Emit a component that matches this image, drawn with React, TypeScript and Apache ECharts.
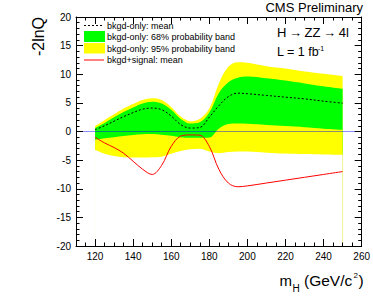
import React, { useEffect, useRef } from "react";
import * as echarts from "echarts";

const mH = [120, 125, 130, 135, 140, 145, 150, 155, 160, 165, 170, 175, 180, 185, 190, 195, 200, 210, 220, 230, 240, 250];
const bkgMean = [0.3, 1.0, 1.8, 2.6, 3.3, 3.9, 4.1, 3.8, 2.7, 1.2, 0.6, 0.7, 2.5, 4.5, 6.1, 6.7, 6.6, 6.3, 6.0, 5.7, 5.3, 4.95];
const band68Up = [0.6, 1.5, 2.5, 3.4, 4.2, 4.9, 5.2, 4.9, 3.8, 2.2, 1.4, 1.6, 3.3, 6.7, 8.6, 9.4, 9.6, 9.3, 8.9, 8.4, 7.9, 7.45];
const band68Down = [-1.45, -1.2, -1.0, -0.8, -0.6, -0.5, -0.45, -0.55, -0.75, -1.0, -1.1, -1.1, -1.05, 0.5, 1.3, 1.4, 1.35, 1.15, 0.95, 0.75, 0.5, 0.3];
const band95Up = [0.9, 2.0, 3.0, 4.0, 4.8, 5.5, 5.8, 5.5, 4.3, 2.6, 1.8, 2.2, 4.0, 8.4, 11.3, 12.1, 12.0, 11.4, 11.0, 10.5, 10.1, 9.7];
const band95Down = [-3.2, -3.9, -4.3, -4.5, -4.55, -4.55, -4.5, -4.4, -3.9, -3.4, -3.1, -3.0, -3.5, -3.8, -3.6, -3.5, -3.5, -3.7, -3.85, -3.95, -4.0, -4.07];
const sigMean = [-1.0, -2.0, -2.8, -3.8, -5.2, -6.6, -7.5, -5.9, -2.6, -0.8, -0.6, -0.65, -2.6, -6.6, -9.0, -9.65, -9.5, -9.0, -8.5, -8.0, -7.5, -7.0];

const xMajorTicks = [120, 140, 160, 180, 200, 220, 240, 260];

const FONT = "Liberation Sans, Arial, Helvetica, sans-serif";

const pairs = (ys: number[]) => mH.map((x, i) => [x, ys[i]]);

export default function App() {
  const ref = useRef<HTMLDivElement>(null);
  useEffect(() => {
    if (!ref.current) return;
    const chart = echarts.init(ref.current, undefined, { renderer: "svg" });
    const SM = 0.35;
    const band = (name: string, ys: number[], color: string) => ({
      name,
      type: "line",
      data: pairs(ys),
      smooth: SM,
      showSymbol: false,
      symbol: "none",
      lineStyle: { width: 0, color },
      areaStyle: { color, opacity: 1, origin: "start" },
      silent: true,
    });
    const axisCommon = {
      type: "value",
      min: 110,
      max: 260,
      z: 10,
      splitLine: { show: false },
    };
    chart.setOption({
      animation: false,
      backgroundColor: "#ffffff",
      grid: { left: 76, right: 8, top: 17, bottom: 53 },
      xAxis: [
        {
          ...axisCommon,
          position: "bottom",
          axisLine: { show: true, onZero: false, lineStyle: { color: "#000", width: 1 } },
          axisTick: { show: true, inside: true, length: 7, customValues: xMajorTicks, lineStyle: { color: "#000" } },
          axisLabel: { show: true, customValues: xMajorTicks, margin: 5, fontSize: 10, color: "#000", fontFamily: FONT },
        },
        {
          ...axisCommon,
          position: "bottom",
          interval: 5,
          axisLine: { show: false, onZero: false },
          axisTick: { show: true, inside: true, length: 3.5, lineStyle: { color: "#000" } },
          axisLabel: { show: false },
        },
        {
          ...axisCommon,
          position: "top",
          axisLine: { show: true, onZero: false, lineStyle: { color: "#000", width: 1 } },
          axisTick: { show: true, inside: true, length: 7, customValues: xMajorTicks, lineStyle: { color: "#000" } },
          axisLabel: { show: false },
        },
        {
          ...axisCommon,
          position: "top",
          interval: 5,
          axisLine: { show: false, onZero: false },
          axisTick: { show: true, inside: true, length: 3.5, lineStyle: { color: "#000" } },
          axisLabel: { show: false },
        },
      ],
      yAxis: [
        {
          type: "value",
          min: -20,
          max: 20,
          interval: 5,
          z: 10,
          position: "left",
          splitLine: { show: false },
          axisLine: { show: true, onZero: false, lineStyle: { color: "#000", width: 1 } },
          axisTick: { show: true, inside: true, length: 7, lineStyle: { color: "#000" } },
          minorTick: { show: true, splitNumber: 5, length: 3.5, lineStyle: { color: "#000" } },
          axisLabel: { show: true, margin: 5, fontSize: 10, color: "#000", fontFamily: FONT },
        },
        {
          type: "value",
          min: -20,
          max: 20,
          interval: 5,
          z: 10,
          position: "right",
          splitLine: { show: false },
          axisLine: { show: true, onZero: false, lineStyle: { color: "#000", width: 1 } },
          axisTick: { show: true, inside: true, length: 7, lineStyle: { color: "#000" } },
          minorTick: { show: true, splitNumber: 5, length: 3.5, lineStyle: { color: "#000" } },
          axisLabel: { show: false },
        },
      ],
      series: [
        band("95up", band95Up, "#ffff00"),
        band("68up", band68Up, "#00ff00"),
        band("68down", band68Down, "#ffff00"),
        band("95down", band95Down, "#ffffff"),
        {
          name: "edge",
          type: "line",
          data: [[250, band95Down[band95Down.length - 1]], [250, -20]],
          showSymbol: false,
          symbol: "none",
          lineStyle: { width: 1, color: "#f4f4a0" },
        },
        {
          name: "bkgd-only: mean",
          type: "line",
          data: pairs(bkgMean),
          smooth: SM,
          showSymbol: false,
          symbol: "none",
          lineStyle: { width: 1, color: "#000", type: [2, 2] },
        },
        {
          name: "zero",
          type: "line",
          data: [[110, 0], [260, 0]],
          showSymbol: false,
          symbol: "none",
          lineStyle: { width: 1, color: "#0000ff", opacity: 0.45 },
        },
        {
          name: "bkgd+signal: mean",
          type: "line",
          data: pairs(sigMean),
          smooth: SM,
          showSymbol: false,
          symbol: "none",
          lineStyle: { width: 1, color: "#ff0000" },
        },
      ],
      graphic: [
        { type: "line", shape: { x1: 84, y1: 25.5, x2: 104, y2: 25.5 }, style: { stroke: "#000", lineWidth: 1, lineDash: [2, 2] }, z: 20 },
        { type: "rect", shape: { x: 84, y: 31, width: 21, height: 11 }, style: { fill: "#00ff00" }, z: 20 },
        { type: "rect", shape: { x: 84, y: 43, width: 21, height: 10.5 }, style: { fill: "#ffff00" }, z: 20 },
        { type: "line", shape: { x1: 84, y1: 60, x2: 104, y2: 60 }, style: { stroke: "#ff0000", lineWidth: 1 }, z: 20 },
        { type: "text", x: 107, y: 25.5, style: { text: "bkgd-only: mean", font: `9px ${FONT}`, fill: "#000", verticalAlign: "middle" }, z: 20 },
        { type: "text", x: 107, y: 37, style: { text: "bkgd-only: 68% probability band", font: `9px ${FONT}`, fill: "#000", verticalAlign: "middle" }, z: 20 },
        { type: "text", x: 107, y: 48.5, style: { text: "bkgd-only: 95% probability band", font: `9px ${FONT}`, fill: "#000", verticalAlign: "middle" }, z: 20 },
        { type: "text", x: 107, y: 60, style: { text: "bkgd+signal: mean", font: `9px ${FONT}`, fill: "#000", verticalAlign: "middle" }, z: 20 },
        { type: "text", x: 363, y: 7, style: { text: "CMS Preliminary", font: `13px ${FONT}`, fill: "#000", align: "right", verticalAlign: "middle" }, z: 20 },
        { type: "text", x: 277, y: 32.5, style: { text: "H\u2009\u2192\u2009ZZ\u2009\u2192\u20094l", font: `13px ${FONT}`, fill: "#000", verticalAlign: "middle" }, z: 20 },
        { type: "text", x: 277, y: 52, style: { text: "L = 1 fb", font: `12.5px ${FONT}`, fill: "#000", verticalAlign: "middle" }, z: 20 },
        { type: "text", x: 318, y: 48.5, style: { text: "-1", font: `7px ${FONT}`, fill: "#000", verticalAlign: "middle" }, z: 20 },
        { type: "text", x: 38.5, y: 36.5, rotation: Math.PI / 2, style: { text: "-2lnQ", font: `16px ${FONT}`, fill: "#000", align: "center", verticalAlign: "middle" }, z: 20 },
        { type: "text", x: 279.5, y: 280.5, style: { text: "m", font: `15px ${FONT}`, fill: "#000", verticalAlign: "middle" }, z: 20 },
        { type: "text", x: 292.5, y: 288.5, style: { text: "H", font: `10px ${FONT}`, fill: "#000", verticalAlign: "middle" }, z: 20 },
        { type: "text", x: 304, y: 280.5, style: { text: "(GeV/c", font: `15.5px ${FONT}`, fill: "#000", verticalAlign: "middle" }, z: 20 },
        { type: "text", x: 353.5, y: 275.5, style: { text: "2", font: `8px ${FONT}`, fill: "#000", verticalAlign: "middle" }, z: 20 },
        { type: "text", x: 358.5, y: 280.5, style: { text: ")", font: `15.5px ${FONT}`, fill: "#000", verticalAlign: "middle" }, z: 20 },
      ],
    });
    return () => chart.dispose();
  }, []);
  return <div ref={ref} style={{ width: 373, height: 299, position: "absolute", left: 0, top: 0 }} />;
}
